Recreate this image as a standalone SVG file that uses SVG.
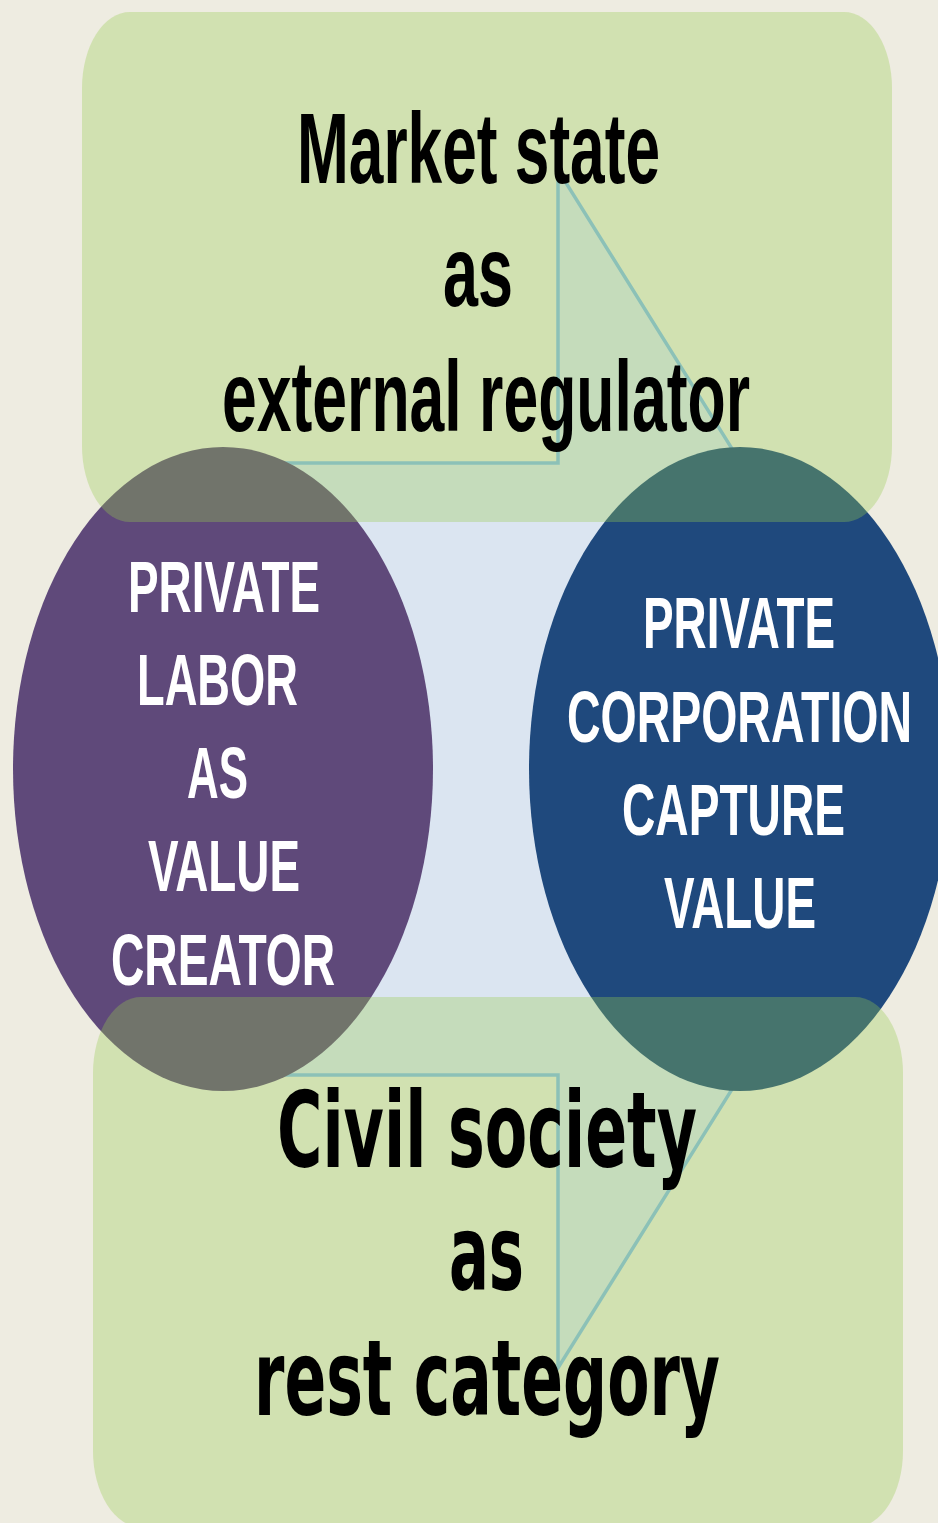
<svg xmlns="http://www.w3.org/2000/svg" width="938" height="1523" viewBox="0 0 938 1523">
  <style>
    .panel { fill: #99CB4F; fill-opacity: 0.33; }
    .flow { fill: #DBE5F1; stroke: #86BCEB; stroke-width: 3.5; stroke-linejoin: miter; }
    .heading { font-family: "Liberation Sans", Arial, sans-serif; font-weight: bold; font-size: 100px; fill: #000000; }
    .heading2 { font-family: "DejaVu Sans", Verdana, sans-serif; font-weight: bold; font-size: 105px; fill: #000000; }
    .label { font-family: "Liberation Sans", Arial, sans-serif; font-weight: bold; font-size: 73px; fill: #FFFFFF; }
  </style>

  <!-- page background -->
  <rect x="0" y="0" width="938" height="1523" fill="#EEECE1"/>

  <!-- broad flow arrow running from labor to corporation -->
  <g id="connectors">
    <polygon class="flow" points="220,463 558,463 558,170 932,769 558,1368 558,1075 220,1075"/>
  </g>

  <!-- left node: labor -->
  <g id="labor">
    <ellipse cx="223" cy="769" rx="210" ry="322" fill="#5F497A"/>
    <text class="label" x="128" y="612" textLength="192" lengthAdjust="spacingAndGlyphs">PRIVATE</text>
    <text class="label" x="137" y="705" textLength="161" lengthAdjust="spacingAndGlyphs">LABOR</text>
    <text class="label" x="187" y="798" textLength="61" lengthAdjust="spacingAndGlyphs">AS</text>
    <text class="label" x="148" y="891" textLength="152" lengthAdjust="spacingAndGlyphs">VALUE</text>
    <text class="label" x="111" y="985" textLength="224" lengthAdjust="spacingAndGlyphs">CREATOR</text>
  </g>

  <!-- right node: corporation -->
  <g id="corporation">
    <ellipse cx="740" cy="769" rx="211" ry="322" fill="#1F497D"/>
    <text class="label" x="643" y="648" textLength="192" lengthAdjust="spacingAndGlyphs">PRIVATE</text>
    <text class="label" x="567" y="742" textLength="345" lengthAdjust="spacingAndGlyphs">CORPORATION</text>
    <text class="label" x="622" y="835" textLength="223" lengthAdjust="spacingAndGlyphs">CAPTURE</text>
    <text class="label" x="664" y="928" textLength="152" lengthAdjust="spacingAndGlyphs">VALUE</text>
  </g>

  <!-- top panel: market state -->
  <g id="market-state">
    <rect class="panel" x="82" y="12" width="810" height="510" rx="48" ry="76"/>
    <text class="heading" x="297" y="183" textLength="363" lengthAdjust="spacingAndGlyphs">Market state</text>
    <text class="heading" x="443" y="306" textLength="70" lengthAdjust="spacingAndGlyphs">as</text>
    <text class="heading" x="222" y="431" textLength="528" lengthAdjust="spacingAndGlyphs">external regulator</text>
  </g>

  <!-- bottom panel: civil society -->
  <g id="civil-society">
    <rect class="panel" x="93" y="997" width="810" height="530" rx="48" ry="76"/>
    <text class="heading2" x="277" y="1167" textLength="420" lengthAdjust="spacingAndGlyphs">Civil society</text>
    <text class="heading2" x="449" y="1290" textLength="75" lengthAdjust="spacingAndGlyphs">as</text>
    <text class="heading2" x="254" y="1415" textLength="466" lengthAdjust="spacingAndGlyphs">rest category</text>
  </g>
</svg>
